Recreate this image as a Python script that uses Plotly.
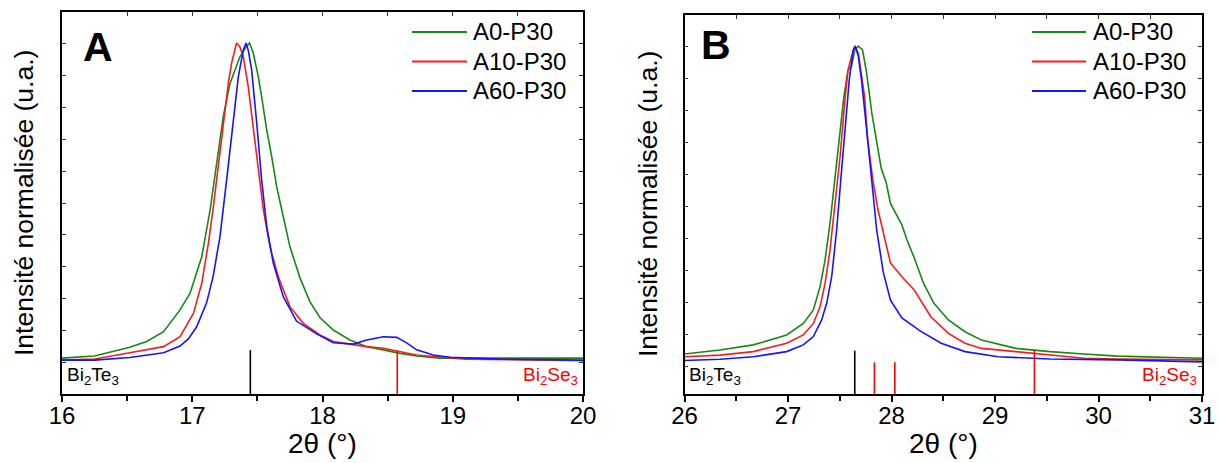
import plotly.graph_objects as go

W, H = 1218, 463
FONT = "Arial, 'Liberation Sans', sans-serif"

series_names = ["A0-P30", "A10-P30", "A60-P30"]
series_colors = ["#138a13", "#ff1a1a", "#1414ff"]

# ---------------- Panel A (2theta 16-20) ----------------
a0_x = [16.00, 16.25, 16.52, 16.65, 16.78, 16.906, 16.983, 17.073, 17.137, 17.188, 17.238, 17.29,
        17.328, 17.366, 17.405, 17.44, 17.469, 17.507, 17.533, 17.572, 17.61, 17.648, 17.699,
        17.75, 17.827, 17.904, 17.98, 18.083, 18.21, 18.34, 18.467, 18.595, 18.723, 18.9, 19.1,
        19.5, 20.0]
a0_y = [0.015, 0.022, 0.049, 0.067, 0.098, 0.166, 0.218, 0.332, 0.478, 0.624, 0.770, 0.874,
        0.916, 0.957, 0.983, 1.000, 0.968, 0.895, 0.832, 0.728, 0.645, 0.551, 0.457,
        0.363, 0.266, 0.191, 0.142, 0.103, 0.072, 0.051, 0.041, 0.030, 0.022, 0.015, 0.015,
        0.016, 0.015]

a10_x = [16.00, 16.25, 16.52, 16.78, 16.906, 17.009, 17.073, 17.124, 17.162, 17.20, 17.238, 17.277,
         17.302, 17.34, 17.366, 17.392, 17.43, 17.469, 17.507, 17.546, 17.597, 17.66, 17.75,
         17.853, 17.98, 18.083, 18.21, 18.34, 18.467, 18.595, 18.723, 18.85, 19.1, 20.0]
a10_y = [0.009, 0.0125, 0.032, 0.051, 0.082, 0.155, 0.249, 0.374, 0.488, 0.613, 0.749, 0.874,
         0.937, 1.000, 0.988, 0.957, 0.863, 0.728, 0.593, 0.478, 0.363, 0.270, 0.176,
         0.124, 0.0875, 0.067, 0.059, 0.051, 0.046, 0.035, 0.025, 0.020, 0.012, 0.007]

a60_x = [16.00, 16.25, 16.52, 16.78, 16.906, 16.97, 17.034, 17.11, 17.16, 17.213, 17.264, 17.315,
         17.354, 17.392, 17.413, 17.43, 17.456, 17.495, 17.533, 17.572, 17.622, 17.699, 17.80,
         17.955, 18.083, 18.237, 18.34, 18.467, 18.57, 18.646, 18.723, 18.85, 18.98, 19.36, 20.0]
a60_y = [0.009, 0.009, 0.017, 0.032, 0.053, 0.075, 0.113, 0.188, 0.270, 0.395, 0.572, 0.759,
         0.895, 0.978, 1.000, 0.978, 0.916, 0.750, 0.572, 0.426, 0.312, 0.207, 0.131,
         0.091, 0.063, 0.059, 0.072, 0.082, 0.080, 0.063, 0.041, 0.025, 0.018, 0.012, 0.009]

# ---------------- Panel B (2theta 26-31) ----------------
b0_x = [26.0, 26.343, 26.665, 26.987, 27.148, 27.245, 27.31, 27.358, 27.406, 27.454, 27.503, 27.54,
        27.58, 27.613, 27.646, 27.68, 27.72, 27.76, 27.81, 27.857, 27.90, 27.95, 27.99, 28.10,
        28.15, 28.22, 28.31, 28.41, 28.55, 28.71, 28.87, 29.2, 29.53, 29.86, 30.18, 31.0]
b0_y = [0.0375, 0.050, 0.066, 0.097, 0.133, 0.175, 0.248, 0.331, 0.446, 0.581, 0.727, 0.842,
        0.925, 0.935, 0.988, 1.000, 0.988, 0.915, 0.790, 0.706, 0.619, 0.571, 0.508, 0.441,
        0.394, 0.3375, 0.258, 0.196, 0.144, 0.107, 0.081, 0.055, 0.045, 0.0375, 0.031, 0.024]

b10_x = [26.0, 26.343, 26.665, 26.987, 27.148, 27.245, 27.31, 27.358, 27.406, 27.454, 27.503, 27.55,
         27.58, 27.613, 27.646, 27.68, 27.71, 27.74, 27.77, 27.82, 27.87, 27.92, 27.99, 28.10,
         28.22, 28.38, 28.55, 28.71, 28.87, 29.2, 29.53, 29.86, 30.18, 31.0]
b10_y = [0.029, 0.034, 0.045, 0.071, 0.097, 0.133, 0.185, 0.258, 0.3625, 0.508, 0.654, 0.831,
         0.925, 0.967, 1.000, 0.977, 0.915, 0.842, 0.706, 0.581, 0.4875, 0.419, 0.322, 0.279,
         0.2375, 0.154, 0.102, 0.071, 0.055, 0.045, 0.034, 0.024, 0.022, 0.019]

b60_x = [26.0, 26.343, 26.665, 26.987, 27.148, 27.245, 27.325, 27.374, 27.422, 27.47, 27.51, 27.55,
         27.592, 27.63, 27.65, 27.68, 27.71, 27.76, 27.81, 27.857, 27.92, 27.99, 28.10, 28.28,
         28.48, 28.71, 29.03, 29.53, 30.18, 31.0]
b60_y = [0.017, 0.021, 0.029, 0.045, 0.066, 0.092, 0.144, 0.196, 0.279, 0.425, 0.581, 0.738,
         0.894, 0.988, 1.000, 0.967, 0.894, 0.738, 0.581, 0.425, 0.294, 0.206, 0.150, 0.109,
         0.071, 0.045, 0.029, 0.022, 0.019, 0.013]

# Reference patterns (positions, stick tops)
a_bite_pos = [17.446]
a_bite_top = [0.040]
a_bise_pos = [18.574]
a_bise_top = [0.038]
b_bite_pos = [27.645]
b_bite_top = [0.048]
b_bise_pos = [27.835, 28.032, 29.381]
b_bise_top = [0.0115, 0.0115, 0.048]

x_ticks_a = [16, 17, 18, 19, 20]
x_ticks_b = [26, 27, 28, 29, 30, 31]

A_YRANGE = [-0.097, 1.097]
B_YRANGE = [-0.0875, 1.097]

fig = go.Figure()

panel_data = [
    ("x", "y", [(a0_x, a0_y), (a10_x, a10_y), (a60_x, a60_y)]),
    ("x2", "y2", [(b0_x, b0_y), (b10_x, b10_y), (b60_x, b60_y)]),
]
for xa, ya, curves in panel_data:
    for (xs, ys), name, col in zip(curves, series_names, series_colors):
        fig.add_trace(go.Scatter(x=xs, y=ys, mode="lines", name=name, xaxis=xa, yaxis=ya,
                                 line=dict(color=col, width=1.6), showlegend=False))


def sticks(pos, top, bottom):
    xs, ys = [], []
    for p, t in zip(pos, top):
        xs += [p, p, None]
        ys += [bottom, t, None]
    return xs, ys


for pos, top, col, xa, ya, bot in [
    (a_bite_pos, a_bite_top, "black", "x", "y", A_YRANGE[0]),
    (a_bise_pos, a_bise_top, "#ff0000", "x", "y", A_YRANGE[0]),
    (b_bite_pos, b_bite_top, "black", "x2", "y2", B_YRANGE[0]),
    (b_bise_pos, b_bise_top, "#ff0000", "x2", "y2", B_YRANGE[0]),
]:
    sx, sy = sticks(pos, top, bot)
    fig.add_trace(go.Scatter(x=sx, y=sy, mode="lines", xaxis=xa, yaxis=ya,
                             line=dict(color=col, width=1.6), showlegend=False, hoverinfo="skip"))

# invisible helper traces for the top (inside-tick) axes
fig.add_trace(go.Scatter(x=[16, 20], y=[None, None], xaxis="x3", yaxis="y", showlegend=False,
                         mode="lines", hoverinfo="skip"))
fig.add_trace(go.Scatter(x=[26, 31], y=[None, None], xaxis="x4", yaxis="y2", showlegend=False,
                         mode="lines", hoverinfo="skip"))

LINEW = 1.8


def xaxis(domain, rng, ticks, anchor):
    return dict(domain=domain, range=rng, anchor=anchor, tickmode="array", tickvals=ticks,
                ticks="outside", ticklen=6, tickwidth=1.5, tickcolor="black",
                minor=dict(dtick=0.5, tick0=0, ticks="outside", ticklen=5, tickwidth=1.5, tickcolor="black"),
                showline=True, linewidth=LINEW, linecolor="black", mirror=True,
                showgrid=False, zeroline=False, automargin=False, ticklabelstandoff=-7,
                tickfont=dict(family=FONT, size=24, color="black"))


def yaxis(domain, rng, anchor):
    return dict(domain=domain, range=rng, anchor=anchor, dtick=0.1, tick0=0,
                ticks="inside", ticklen=4, tickwidth=1.2, tickcolor="#333",
                showticklabels=False, showline=True, linewidth=LINEW, linecolor="black",
                mirror="ticks", showgrid=False, zeroline=False, automargin=False)


def topaxis(rng, over, anchor):
    return dict(overlaying=over, side="top", anchor=anchor, range=rng, dtick=0.5, tick0=0,
                ticks="inside", ticklen=4, tickwidth=1.2, tickcolor="#333", showticklabels=False,
                showline=False, showgrid=False, zeroline=False, automargin=False)


xa_dom = [62 / W, 583 / W]
xb_dom = [684.5 / W, 1202 / W]
ya_dom = [(H - 394) / H, (H - 12) / H]
yb_dom = [(H - 394) / H, (H - 15) / H]

fig.update_layout(
    width=W, height=H, autosize=False,
    margin=dict(l=0, r=0, t=0, b=0, pad=0),
    paper_bgcolor="white", plot_bgcolor="white",
    xaxis=xaxis(xa_dom, [16, 20], x_ticks_a, "y"),
    yaxis=yaxis(ya_dom, A_YRANGE, "x"),
    xaxis2=xaxis(xb_dom, [26, 31], x_ticks_b, "y2"),
    yaxis2=yaxis(yb_dom, B_YRANGE, "x2"),
    xaxis3=topaxis([16, 20], "x", "y"),
    xaxis4=topaxis([26, 31], "x2", "y2"),
    showlegend=False,
)

ann = []
shapes = []


def px_x(p):
    return p / W


def px_y(p):
    return 1 - p / H


# axis titles
for cx in [(62 + 583) / 2, (684.5 + 1202) / 2]:
    ann.append(dict(text="2θ (°)", x=px_x(cx), y=px_y(443), xref="paper", yref="paper",
                    showarrow=False, font=dict(family=FONT, size=28, color="black"),
                    xanchor="center", yanchor="middle"))
for cx, cy in [(24, 203), (648, 204)]:
    ann.append(dict(text="Intensité normalisée (u.a.)", x=px_x(cx), y=px_y(cy), xref="paper",
                    yref="paper", showarrow=False, textangle=-90,
                    font=dict(family=FONT, size=26.5, color="black"),
                    xanchor="center", yanchor="middle"))

# panel letters
for txt, cx, cy in [("A", 98, 47), ("B", 716, 45)]:
    ann.append(dict(text="<b>" + txt + "</b>", x=px_x(cx), y=px_y(cy), xref="paper", yref="paper",
                    showarrow=False, font=dict(family=FONT, size=41, color="black"),
                    xanchor="center", yanchor="middle"))

# phase labels
for left, right in [(65, 580), (687, 1199)]:
    ann.append(dict(text="Bi<sub>2</sub>Te<sub>3</sub>", x=px_x(left), y=px_y(376), xref="paper",
                    yref="paper", showarrow=False, font=dict(family=FONT, size=19, color="black"),
                    xanchor="left", yanchor="middle"))
    ann.append(dict(text="Bi<sub>2</sub>Se<sub>3</sub>", x=px_x(right), y=px_y(376), xref="paper",
                    yref="paper", showarrow=False, font=dict(family=FONT, size=19, color="#ff0000"),
                    xanchor="right", yanchor="middle"))

# legends
for lx0, lx1, tx in [(412, 467, 471), (1032, 1086, 1091)]:
    for i, (name, col) in enumerate(zip(series_names, series_colors)):
        yy = 32 + i * 29.5
        shapes.append(dict(type="line", xref="paper", yref="paper", x0=px_x(lx0), x1=px_x(lx1),
                           y0=px_y(yy), y1=px_y(yy), line=dict(color=col, width=1.8)))
        ann.append(dict(text=name, x=px_x(tx), y=px_y(yy), xref="paper", yref="paper",
                        showarrow=False, font=dict(family=FONT, size=24, color="black"),
                        xanchor="left", yanchor="middle"))

fig.update_layout(annotations=ann, shapes=shapes)
fig.write_html(
    "out.html",
    config={"responsive": False, "displayModeBar": False},
    post_script="document.body.style.margin='0';document.body.style.overflow='hidden';",
)
